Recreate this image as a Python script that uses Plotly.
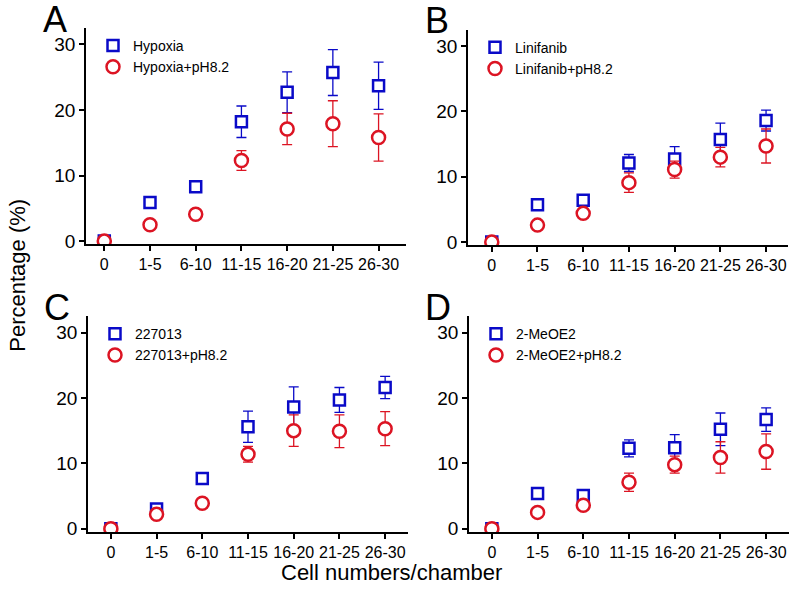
import plotly.graph_objects as go

# categorias del eje x
cats = ["0", "1-5", "6-10", "11-15", "16-20", "21-25", "26-30"]

# panel A
hyp = [0, 5.9, 8.3, 18.2, 22.7, 25.7, 23.7]
hyp_err = [0, 0.3, 0.3, 2.4, 3.1, 3.5, 3.6]
hyp_ph = [0, 2.5, 4.1, 12.3, 17.1, 17.9, 15.8]
hyp_ph_err = [0, 0.4, 0.3, 1.5, 2.4, 3.5, 3.6]

# panel B
lin = [0, 5.7, 6.4, 12.1, 12.7, 15.7, 18.6]
lin_err = [0, 0.3, 0.3, 1.3, 1.9, 2.5, 1.6]
lin_ph = [0, 2.6, 4.4, 9.1, 11.1, 13.0, 14.7]
lin_ph_err = [0, 0.4, 0.3, 1.5, 1.3, 1.5, 2.6]

# panel C
c227 = [0, 3.0, 7.7, 15.6, 18.6, 19.7, 21.6]
c227_err = [0, 0.3, 0.3, 2.4, 3.1, 1.9, 1.7]
c227_ph = [0, 2.2, 3.9, 11.4, 15.0, 14.9, 15.3]
c227_ph_err = [0, 0.5, 0.3, 1.2, 2.4, 2.5, 2.6]

# panel D
meo = [0, 5.4, 5.1, 12.3, 12.4, 15.2, 16.7]
meo_err = [0, 0.3, 0.3, 1.3, 2.0, 2.5, 1.8]
meo_ph = [0, 2.5, 3.6, 7.1, 9.8, 10.9, 11.8]
meo_ph_err = [0, 0.4, 0.3, 1.4, 1.3, 2.4, 2.7]

W, H = 800, 597
BLUE = "#0a0ac8"
RED = "#dc1423"
FONT = "Liberation Sans, Arial, sans-serif"

paneles = [
    ("A", "Hypoxia", hyp, hyp_err, hyp_ph, hyp_ph_err, (86, 406, 28.3, 247.3), [-0.4, 6.6]),
    ("B", "Linifanib", lin, lin_err, lin_ph, lin_ph_err, (468, 788, 30, 248.3), [-0.52, 6.48]),
    ("C", "227013", c227, c227_err, c227_ph, c227_ph_err, (88, 408, 320, 538.3), [-0.5, 6.5]),
    ("D", "2-MeOE2", meo, meo_err, meo_ph, meo_ph_err, (469, 789, 320, 538.3), [-0.5, 6.5]),
]

fig = go.Figure()
layout = {}
anots = []

for i, (letra, nombre, v1, e1, v2, e2, caja, xr) in enumerate(paneles):
    n = "" if i == 0 else str(i + 1)
    leg = "legend" + n
    x0, x1, ytop, ybot = caja

    fig.add_trace(go.Scatter(
        x=cats, y=v1, mode="markers", name=nombre,
        xaxis="x" + n, yaxis="y" + n, legend=leg,
        marker=dict(symbol="square", size=11, color="white",
                    line=dict(color=BLUE, width=2.5)),
        error_y=dict(type="data", array=e1, color=BLUE, thickness=1.3, width=5),
    ))
    fig.add_trace(go.Scatter(
        x=cats, y=v2, mode="markers", name=nombre + "+pH8.2",
        xaxis="x" + n, yaxis="y" + n, legend=leg,
        marker=dict(symbol="circle", size=13, color="white",
                    line=dict(color=RED, width=2.5)),
        error_y=dict(type="data", array=e2, color=RED, thickness=1.3, width=5),
    ))

    layout["xaxis" + n] = dict(
        domain=[x0 / W, x1 / W], anchor="y" + n, type="category",
        range=xr, showline=True, linecolor="black", linewidth=1.5,
        ticks="outside", ticklen=5, tickwidth=1.5, tickcolor="black",
        showgrid=False, zeroline=False,
        tickfont=dict(size=16, color="black", family=FONT),
    )
    layout["yaxis" + n] = dict(
        domain=[1 - ybot / H, 1 - ytop / H], anchor="x" + n,
        range=[-0.5, 32.5], tickvals=[0, 10, 20, 30],
        showline=True, linecolor="black", linewidth=1.5,
        ticks="outside", ticklen=5, tickwidth=1.5, tickcolor="black",
        showgrid=False, zeroline=False,
        tickfont=dict(size=19, color="black", family=FONT),
    )
    layout[leg] = dict(
        x=(x0 + 7) / W, y=1 - (ytop + 2) / H, xanchor="left", yanchor="top",
        bgcolor="rgba(0,0,0,0)", font=dict(size=14, color="black", family=FONT),
        tracegroupgap=0,
    )
    anots.append(dict(
        text=letra, x=(x0 - 31) / W, y=1 - (ytop - 9) / H,
        xref="paper", yref="paper", showarrow=False,
        xanchor="center", yanchor="middle",
        font=dict(size=36, color="black", family=FONT),
    ))

anots.append(dict(
    text="Percentage (%)", x=18 / W, y=1 - 279 / H, xref="paper", yref="paper",
    showarrow=False, textangle=-90, xanchor="center", yanchor="middle",
    font=dict(size=22, color="black", family=FONT),
))
anots.append(dict(
    text="Cell numbers/chamber", x=391 / W, y=1 - 579 / H, xref="paper", yref="paper",
    showarrow=False, xanchor="center", yanchor="middle",
    font=dict(size=22, color="black", family=FONT),
))

fig.update_layout(
    width=W, height=H,
    margin=dict(l=0, r=0, t=0, b=0),
    paper_bgcolor="white", plot_bgcolor="white",
    annotations=anots,
    **layout,
)

fig.write_html("out.html", config={"displayModeBar": False},
               post_script="document.body.style.margin='0';")
